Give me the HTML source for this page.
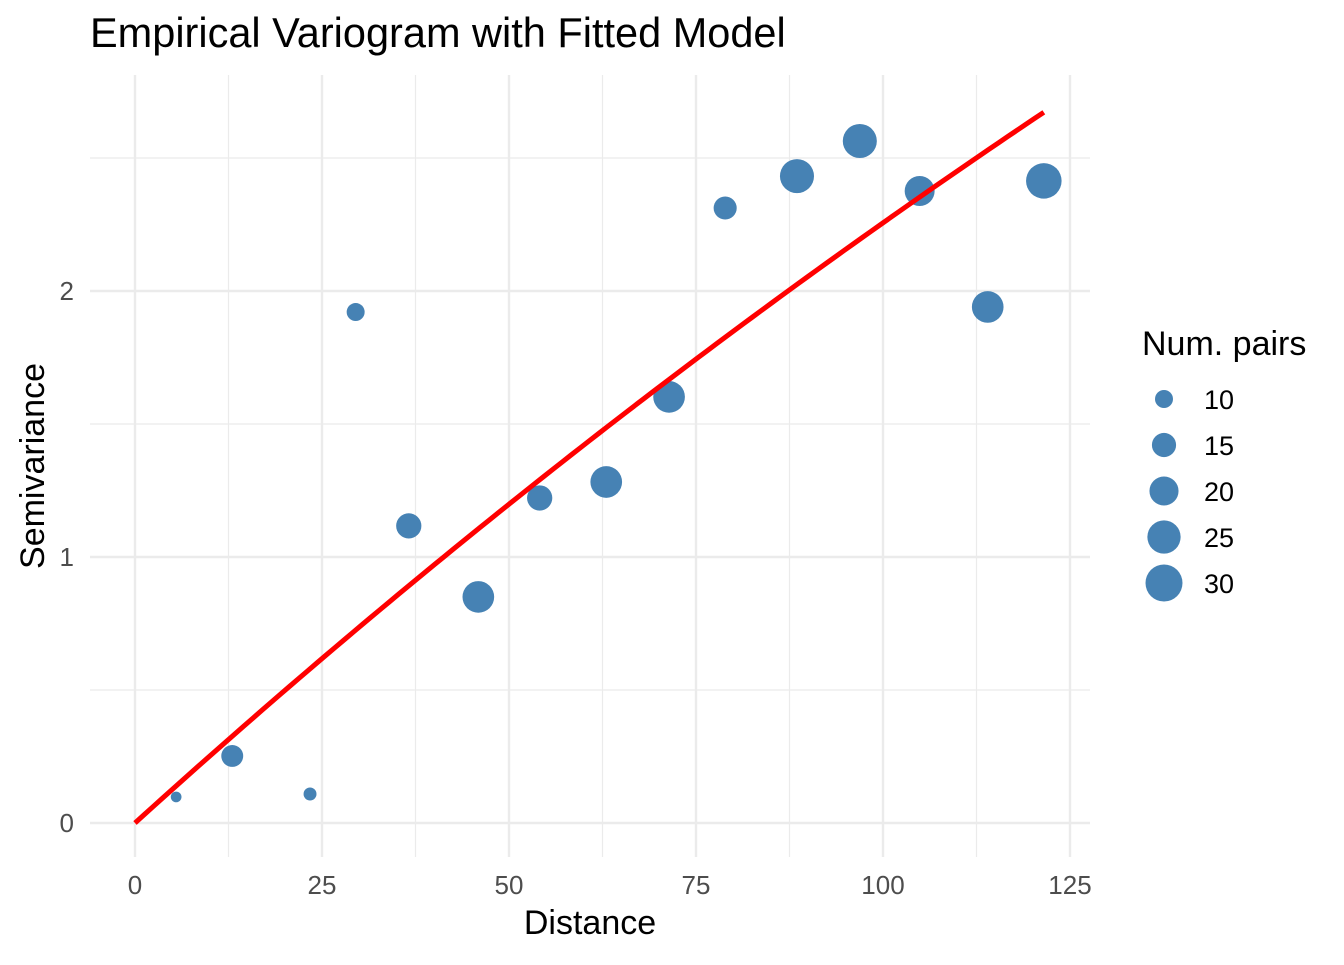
<!DOCTYPE html>
<html><head><meta charset="utf-8"><style>
body{margin:0;background:#fff;}
svg text{font-family:"Liberation Sans",Arial,sans-serif;}
</style></head><body>
<svg id="chart" width="1344" height="960" xmlns="http://www.w3.org/2000/svg">
<text x="90" y="47" font-size="41.5" fill="#000">Empirical Variogram with Fitted Model</text>
<g id="grid"></g><g id="marks"></g><g id="axes"></g><g id="legend"></g>
</svg>
<script>
const distances=[5.5,13.0,23.4,29.5,36.6,45.9,54.1,63.0,71.4,78.9,88.5,96.9,104.9,114.0,121.5];
const gammas=[0.098,0.252,0.109,1.921,1.117,0.850,1.222,1.282,1.602,2.312,2.432,2.564,2.376,1.940,2.414];
const npairs=[6,13,7,10,16,23,16,23,23,14,26,26,21,23,28];
const xTicks=[0,25,50,75,100,125];
const yTicks=[0,1,2];
const legendSizes=[10,15,20,25,30];
const modelSill=10.2, modelRange=400;
const NS="http://www.w3.org/2000/svg";
const X=v=>135+v*7.48, Y=v=>823-v*266;
const R=n=>Math.sqrt(Math.max(4,81+(n-10)*13.05));
function mk(tag,attrs,parent){const e=document.createElementNS(NS,tag);for(const k in attrs)e.setAttribute(k,attrs[k]);parent.appendChild(e);return e;}
const grid=document.getElementById('grid'),marks=document.getElementById('marks'),axes=document.getElementById('axes'),leg=document.getElementById('legend');
for(let i=0;i<xTicks.length-1;i++){const m=(xTicks[i]+xTicks[i+1])/2;const l=mk('line',{x1:X(m),x2:X(m),y1:75,y2:857,stroke:'#ebebeb','stroke-width':1.2},grid);

}
for(let i=0;i<yTicks.length;i++){const m=yTicks[i]+0.5;const l=mk('line',{x1:90,x2:1090,y1:Y(m),y2:Y(m),stroke:'#ebebeb','stroke-width':1.2},grid);

}
xTicks.forEach(t=>{const l=mk('line',{x1:X(t),x2:X(t),y1:75,y2:857,stroke:'#ebebeb','stroke-width':2.4},grid);


const tx=mk('text',{x:X(t),y:894,'font-size':26,fill:'#4d4d4d','text-anchor':'middle'},axes);tx.textContent=t;

});
yTicks.forEach(t=>{const l=mk('line',{x1:90,x2:1090,y1:Y(t),y2:Y(t),stroke:'#ebebeb','stroke-width':2.4},grid);


const tx=mk('text',{x:74,y:Y(t)+9,'font-size':26,fill:'#4d4d4d','text-anchor':'end'},axes);tx.textContent=t;

});
distances.forEach((d,i)=>{const c=mk('circle',{cx:X(d),cy:Y(gammas[i]),r:R(npairs[i]),fill:'#4682b4'},marks);

});
let pts=[];const maxD=Math.max(...distances);
for(let k=0;k<=100;k++){const h=maxD*k/100;pts.push(X(h)+','+Y(modelSill*(1-Math.exp(-h/modelRange))));}
const pl=mk('polyline',{points:pts.join(' '),fill:'none',stroke:'#ff0000','stroke-width':5},marks);


let t=mk('text',{x:590,y:934,'font-size':34,'text-anchor':'middle'},axes);t.textContent='Distance';


t=mk('text',{x:0,y:0,'font-size':34,'text-anchor':'middle',transform:'translate(44,466) rotate(-90)'},axes);t.textContent='Semivariance';


t=mk('text',{x:1142,y:355,'font-size':34},leg);t.textContent='Num. pairs';


legendSizes.forEach((s,i)=>{const cy=399+i*46;const c=mk('circle',{cx:1164,cy:cy,r:R(s),fill:'#4682b4'},leg);


const tx=mk('text',{x:1204,y:cy+10,'font-size':27},leg);tx.textContent=s;

});
</script>
</body></html>
